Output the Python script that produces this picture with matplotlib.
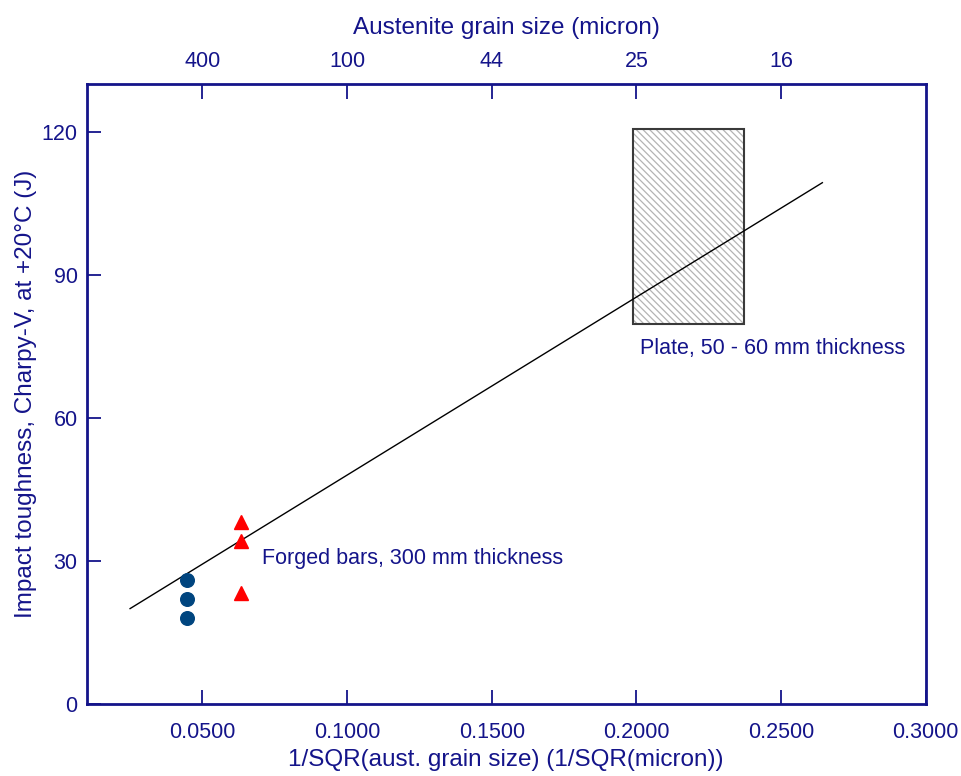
import matplotlib
matplotlib.use("Agg")
import matplotlib.pyplot as plt
from matplotlib.patches import Rectangle

plt.rcParams['font.family'] = ['Liberation Sans', 'DejaVu Sans']
plt.rcParams['hatch.linewidth'] = 0.9

NAVY = '#14148a'

# forged bars, 300 mm
bar_circ_x = [0.0448, 0.0448, 0.0448]
bar_circ_y = [26, 22, 18]
bar_tri_x = [0.0632, 0.0632, 0.0632]
bar_tri_y = [38.2, 34.2, 23.2]

# regression line end points
fit_x = [0.025, 0.2643]
fit_y = [20.0, 109.3]

# plate 50 - 60 mm: scatter band
plate_x = [0.1988, 0.2372]
plate_y = [79.6, 120.6]

x_ticks = [0.05, 0.10, 0.15, 0.20, 0.25, 0.30]
y_ticks = [0, 30, 60, 90, 120]
grain_ticks = [0.05, 0.10, 0.15, 0.20, 0.25]
grain_labels = ['400', '100', '44', '25', '16']

fig = plt.figure(figsize=(9.61, 7.76), dpi=100)
ax = fig.add_axes([0.0902, 0.0928, 0.8730, 0.7990])

ax.set_xlim(0.01, 0.30)
ax.set_ylim(0, 130)

# hatched plate box (hatch uses edge colour, so draw the outline separately)
w = plate_x[1] - plate_x[0]
h = plate_y[1] - plate_y[0]
ax.add_patch(Rectangle((plate_x[0], plate_y[0]), w, h, facecolor='white',
                       edgecolor='#b4b4b4', hatch='\\\\\\\\\\', linewidth=0, zorder=1))
ax.add_patch(Rectangle((plate_x[0], plate_y[0]), w, h, facecolor='none',
                       edgecolor='#3a3a3a', linewidth=1.5, zorder=2))

ax.plot(fit_x, fit_y, color='black', linewidth=1.0, zorder=3)
ax.plot(bar_circ_x, bar_circ_y, 'o', color='#00457f', markersize=9.8, zorder=4)
ax.plot(bar_tri_x, bar_tri_y, '^', color='#ff0000', markersize=10, zorder=4)

ax.text(0.0705, 30.4, 'Forged bars, 300 mm thickness', color=NAVY,
        fontsize=15.5, va='center', ha='left')
ax.text(0.2013, 74.5, 'Plate, 50 - 60 mm thickness', color=NAVY,
        fontsize=15.5, va='center', ha='left')

for s in ax.spines.values():
    s.set_color(NAVY)
    s.set_linewidth(2)

ax.set_xticks(x_ticks)
ax.set_xticklabels(['%.4f' % v for v in x_ticks])
ax.set_yticks(y_ticks)
ax.tick_params(axis='x', direction='in', length=10, width=1.3, color=NAVY,
               labelcolor=NAVY, labelsize=15.5, pad=13)
ax.tick_params(axis='y', direction='in', length=10, width=1.3, color=NAVY,
               labelcolor=NAVY, labelsize=15.5, pad=6.5)
ax.set_xlabel('1/SQR(aust. grain size) (1/SQR(micron))', color=NAVY,
              fontsize=17.5, labelpad=4)
ax.set_ylabel('Impact toughness, Charpy-V, at +20°C (J)', color=NAVY,
              fontsize=17.5, labelpad=3)

# top axis in grain size
top = ax.secondary_xaxis('top')
top.set_xticks(grain_ticks)
top.set_xticklabels(grain_labels)
top.tick_params(direction='in', length=11, width=1.3, color=NAVY,
                labelcolor=NAVY, labelsize=15.5, pad=8.5)
top.spines['top'].set_visible(False)
top.set_xlabel('Austenite grain size (micron)', color=NAVY, fontsize=17.5,
               labelpad=12.5)

fig.savefig('out.png', dpi=100)
